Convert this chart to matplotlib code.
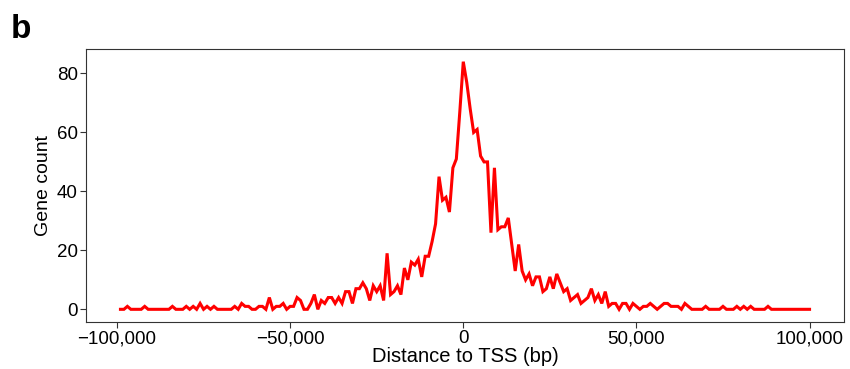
import numpy as np
import matplotlib
matplotlib.use("Agg")
from matplotlib import pyplot as plt
from matplotlib.ticker import FuncFormatter

# distance bins (bp), 1 kb steps from -99 kb to 100 kb
distance = np.arange(-99000, 100001, 1000)

# gene counts, left to right
left_tail = [0, 0, 1, 0, 0, 0, 0, 1, 0, 0,      # -99 .. -90
             0, 0, 0, 0, 0, 1, 0, 0, 0, 1,      # -89 .. -80
             0, 1, 0, 2, 0, 1, 0, 1, 0, 0,      # -79 .. -70
             0, 0, 0, 1, 0, 2, 1, 1, 0, 0]      # -69 .. -60
left_rise = [1, 1, 0, 4, 0, 1, 1, 2, 0, 1,      # -59 .. -50
             1, 4, 3, 0, 0, 2, 5, 0, 3, 2,      # -49 .. -40
             4, 4, 2, 4, 2, 6, 6, 2, 7, 7,      # -39 .. -30
             9, 7, 3, 8, 6, 8, 3, 19, 5, 6]     # -29 .. -20
centre = [8, 5, 14, 10, 16, 15, 17, 11, 18, 18,  # -19 .. -10
          23, 29, 45, 37, 38, 33, 48, 51, 67,    # -9 .. -1
          84,                                   # 0
          77, 68, 60, 61, 52, 50, 50, 26, 48, 27,  # 1 .. 10
          28, 28, 31, 22, 13, 22, 13, 10, 12, 8]   # 11 .. 20
right_fall = [11, 11, 6, 7, 11, 7, 12, 9, 6, 7,   # 21 .. 30
              3, 4, 5, 2, 3, 4, 7, 3, 5, 2,       # 31 .. 40
              6, 1, 2, 2, 0, 2, 2, 0, 2, 1,       # 41 .. 50
              0, 1, 1, 2, 1, 0, 1, 2, 2, 1]       # 51 .. 60
right_tail = [1, 1, 0, 2, 1, 0, 0, 0, 0, 1,       # 61 .. 70
              0, 0, 0, 0, 1, 0, 0, 0, 1, 0,       # 71 .. 80
              1, 0, 1, 0, 0, 0, 0, 1, 0, 0,       # 81 .. 90
              0, 0, 0, 0, 0, 0, 0, 0, 0, 0]       # 91 .. 100

counts = np.array(left_tail + left_rise + centre + right_fall + right_tail)

x_ticks = [-100000, -50000, 0, 50000, 100000]
y_ticks = [0, 20, 40, 60, 80]

plt.rcParams['font.family'] = ['Liberation Sans', 'DejaVu Sans']

fig = plt.figure(figsize=(8.5, 3.69), dpi=100)
ax = fig.add_axes([86 / 850, 1 - 321.7 / 369, (844 - 86) / 850, (321.7 - 49.3) / 369])

ax.plot(distance, counts, color="#ff0000", lw=2.2, solid_joinstyle="miter")

span = distance.max() - distance.min()
ax.set_xlim(distance.min() - 0.05 * span, distance.max() + 0.05 * span)
ax.set_ylim(-0.05 * counts.max(), counts.max() * 1.05)

ax.set_xticks(x_ticks)
ax.set_yticks(y_ticks)
ax.xaxis.set_major_formatter(FuncFormatter(lambda v, p: "{:,}".format(int(v)).replace("-", "\u2212")))

ax.tick_params(direction="out", length=4, width=0.8, colors="#333333",
               labelsize=13.5, labelcolor="black", pad=2)
for s in ax.spines.values():
    s.set_linewidth(0.8)
    s.set_color("#333333")

ax.set_xlabel("Distance to TSS (bp)", fontsize=14.5, labelpad=0)
ax.set_ylabel("Gene count", fontsize=14, labelpad=3)

fig.text(11 / 850, 1 - 38 / 369, "b", fontsize=24, fontweight="bold")

fig.savefig("out.png", dpi=100)
